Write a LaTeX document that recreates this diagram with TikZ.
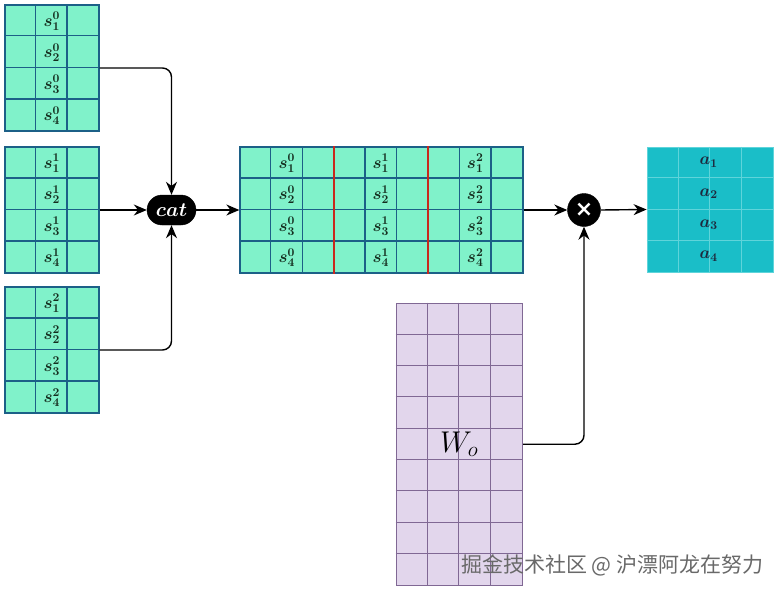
\RequirePackage{fix-cm}
\documentclass[tikz,border=0pt]{standalone}
\usepackage{fontspec}
\usepackage{amsmath,bm}
\newfontfamily\cjk{Noto Sans CJK SC}
\newfontfamily\dejavu{DejaVu Sans}
\usetikzlibrary{arrows.meta,shapes.misc,calc}
\definecolor{cellgreen}{RGB}{128,242,202}
\definecolor{gridblue}{RGB}{28,96,135}
\definecolor{cellcyan}{RGB}{26,190,200}
\definecolor{cyanline}{RGB}{95,212,218}
\definecolor{cellpurple}{RGB}{226,214,236}
\definecolor{purpleline}{RGB}{128,104,148}
\definecolor{sepred}{RGB}{200,40,28}
\definecolor{labeldark}{RGB}{20,45,30}
\definecolor{alabcol}{RGB}{30,40,60}
\definecolor{wmgray}{RGB}{105,105,105}
\tikzset{
  gridbox/.style={draw=gridblue, line width=1.3pt, fill=cellgreen, inner sep=0pt, rectangle},
  gline/.style={draw=gridblue, line width=1.3pt},
  cyanbox/.style={draw=cyanline, line width=0.8pt, fill=cellcyan, inner sep=0pt, rectangle},
  cline/.style={draw=cyanline, line width=0.8pt},
  wbox/.style={draw=purpleline, line width=1pt, fill=cellpurple, inner sep=0pt, rectangle},
  wline/.style={draw=purpleline, line width=1pt},
  redsep/.style={draw=sepred, line width=2pt},
  slabel/.style={inner sep=0pt, text=labeldark, font=\fontsize{17}{19}\selectfont},
  alabel/.style={inner sep=0pt, text=alabcol, font=\fontsize{17}{19}\selectfont},
  conn/.style={draw=black, line width=1.4pt, -{Stealth[length=13pt,width=11pt]}, rounded corners=9pt},
  opnode/.style={fill=black, draw=black, text=white, inner sep=0pt},
}
\begin{document}
\begin{tikzpicture}[x=1pt,y=-1pt]
\useasboundingbox[fill=white] (0,0) rectangle (782,594);

% ---------- three input grids ----------
\foreach \k/\yc in {0/68,1/210,2/350}{
  \node[gridbox, minimum width=94pt, minimum height=126pt] (g\k) at (52,\yc) {};
  \foreach \c in {1,2}{
    \draw[gline] ($(g\k.north west)+(\c*31.33,0)$) -- ($(g\k.south west)+(\c*31.33,0)$);
  }
  \foreach \r in {1,2,3}{
    \draw[gline] ($(g\k.north west)+(0,\r*31.5)$) -- ($(g\k.north east)+(0,\r*31.5)$);
  }
  \foreach \i in {1,2,3,4}{
    \node[slabel] (s\k\i) at ($(g\k.north west)+(47.5,\i*31.5-14.5)$) {$\bm{s^{\k}_{\i}}$};
  }
}

% ---------- cat node ----------
\node[opnode, rounded rectangle, minimum width=49pt, minimum height=30pt,
      font=\fontsize{20}{22}\selectfont] (cat) at (171.5,210) {$\bm{cat}$};

% ---------- concatenated grid ----------
\node[gridbox, minimum width=283pt, minimum height=126pt] (mid) at (381.5,210) {};
\foreach \c in {1,2,4,5,7,8}{
  \draw[gline] ($(mid.north west)+(\c*31.44,0)$) -- ($(mid.south west)+(\c*31.44,0)$);
}
\foreach \r in {1,2,3}{
  \draw[gline] ($(mid.north west)+(0,\r*31.5)$) -- ($(mid.north east)+(0,\r*31.5)$);
}
\foreach \c in {3,6}{
  \draw[redsep] ($(mid.north west)+(\c*31.44,0)$) -- ($(mid.south west)+(\c*31.44,0)$);
}
\foreach \k/\cx in {0/47.5,1/141.5,2/235.8}{
  \foreach \i in {1,2,3,4}{
    \node[slabel] (m\k\i) at ($(mid.north west)+(\cx,\i*31.5-14.5)$) {$\bm{s^{\k}_{\i}}$};
  }
}

% ---------- multiply node ----------
\node[opnode, circle, minimum size=33pt, font=\dejavu\bfseries\fontsize{22}{22}\selectfont] (times) at (584,210) {×};

% ---------- output grid ----------
\node[cyanbox, minimum width=126pt, minimum height=125pt] (agrid) at (710,209.5) {};
\foreach \c in {1,2,3}{
  \draw[cline] ($(agrid.north west)+(\c*31.5,0)$) -- ($(agrid.south west)+(\c*31.5,0)$);
}
\foreach \r in {1,2,3}{
  \draw[cline] ($(agrid.north west)+(0,\r*31.25)$) -- ($(agrid.north east)+(0,\r*31.25)$);
}
\foreach \i in {1,2,3,4}{
  \node[alabel] (a\i) at ($(agrid.north west)+(62,\i*31.25-15.6)$) {$\bm{a_{\i}}$};
}

% ---------- W_o grid ----------
\node[wbox, minimum width=126.5pt, minimum height=282pt] (wo) at (459.3,444.2) {};
\foreach \c in {1,2,3}{
  \draw[wline] ($(wo.north west)+(\c*31.62,0)$) -- ($(wo.south west)+(\c*31.62,0)$);
}
\foreach \r in {1,...,8}{
  \draw[wline] ($(wo.north west)+(0,\r*31.33)$) -- ($(wo.north east)+(0,\r*31.33)$);
}
\node[inner sep=0pt, font=\fontsize{30}{32}\selectfont] (wolabel) at (wo.center) {$W_o$};

% ---------- connectors ----------
\draw[conn] (g0.east) -| (cat.north);
\draw[conn] (g1.east) -- (cat.west);
\draw[conn] (g2.east) -| (cat.south);
\draw[conn] (cat.east) -- (mid.west);
\draw[conn] (mid.east) -- (times.west);
\draw[conn] (times.east) -- (agrid.west);
\draw[conn] (wo.east) -| (times.south);

% ---------- watermark ----------
\node[anchor=west, inner sep=0pt, text=wmgray, font=\cjk\fontsize{21}{23}\selectfont] (wm) at (461,565) {掘金技术社区 @ 沪漂阿龙在努力};
\end{tikzpicture}
\end{document}
